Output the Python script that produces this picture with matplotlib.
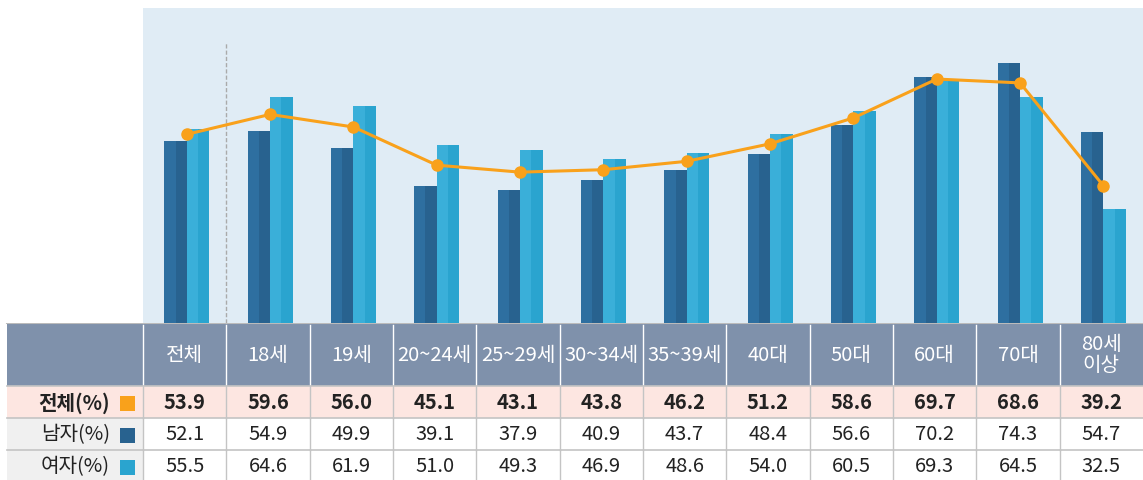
import numpy as np
import matplotlib
matplotlib.use('Agg')
import matplotlib.pyplot as plt
from matplotlib.patches import Rectangle

plt.rcParams['font.family'] = ['Noto Sans CJK KR', 'DejaVu Sans']

categories = ['전체', '18세', '19세', '20~24세', '25~29세', '30~34세', '35~39세',
              '40대', '50대', '60대', '70대', '80세\n이상']
total = [53.9, 59.6, 56.0, 45.1, 43.1, 43.8, 46.2, 51.2, 58.6, 69.7, 68.6, 39.2]
male = [52.1, 54.9, 49.9, 39.1, 37.9, 40.9, 43.7, 48.4, 56.6, 70.2, 74.3, 54.7]
female = [55.5, 64.6, 61.9, 51.0, 49.3, 46.9, 48.6, 54.0, 60.5, 69.3, 64.5, 32.5]
row_labels = ['전체(%)', '남자(%)', '여자(%)']

W, H = 1143, 480
c_orange = '#F9A11B'
c_male = ('#2E6FA0', '#28628F')
c_female = ('#3AAFD9', '#2AA4CF')
c_bg = '#E0ECF5'
c_head = '#7F91AB'

fig = plt.figure(figsize=(W / 100, H / 100), dpi=100)

# chart area
x0, x1, ytop, ybot = 143, 1143, 8, 323
ax = fig.add_axes([x0 / W, (H - ybot) / H, (x1 - x0) / W, (ybot - ytop) / H])
ax.set_facecolor(c_bg)
n = len(categories)
x = np.arange(n) + 0.025
bw = 0.27
half = bw / 2
ax.bar(x - bw, male, width=half, align='edge', color=c_male[0], lw=0)
ax.bar(x - half, male, width=half, align='edge', color=c_male[1], lw=0)
ax.bar(x, female, width=half, align='edge', color=c_female[0], lw=0)
ax.bar(x + half, female, width=half, align='edge', color=c_female[1], lw=0)
ax.plot(x, total, color=c_orange, lw=2.2, marker='o', ms=8, zorder=5)
ax.plot([0.5, 0.5], [0, 80], color='#AAAAAA', lw=1, ls=(0, (3, 1.5)), zorder=1)
ax.set_xlim(-0.5, 11.5)
ax.set_ylim(0, 90)
ax.set_xticks([])
ax.set_yticks([])
for s in ax.spines.values():
    s.set_visible(False)

# table area
tx = fig.add_axes([0, 0, 1, (H - ybot) / H])
tx.set_xlim(0, W)
tx.set_ylim(H, ybot)
tx.axis('off')

col_w = (x1 - x0) / n
lab_x0 = 7
rows = [(323, 386), (386, 418), (418, 450), (450, 482)]
row_bg = ['#FDE6E1', '#FFFFFF', '#FFFFFF']
lab_bg = ['#FDE6E1', '#F0F0F0', '#F0F0F0']
sq_col = [c_orange, c_male[1], c_female[1]]
grid = '#C4C4C4'

# header row
tx.add_patch(Rectangle((lab_x0, rows[0][0]), W - lab_x0, rows[0][1] - rows[0][0],
                       color=c_head, lw=0))
for i, c in enumerate(categories):
    cx = x0 + col_w * (i + 0.5)
    tx.text(cx, (rows[0][0] + rows[0][1]) / 2 + 1, c, color='white', fontsize=14.5,
            ha='center', va='center', linespacing=1.0)
for i in range(n):
    xl = x0 + col_w * i
    tx.plot([xl, xl], [rows[0][0] + 2, rows[0][1]], color='white', lw=1)

# body rows
data_rows = [total, male, female]
for r, vals in enumerate(data_rows):
    ya, yb = rows[r + 1]
    tx.add_patch(Rectangle((lab_x0, ya), x0 - lab_x0, yb - ya, color=lab_bg[r], lw=0))
    tx.add_patch(Rectangle((x0, ya), W - x0, yb - ya, color=row_bg[r], lw=0))
    yc = (ya + yb) / 2 + 1
    weight = 'bold' if r == 0 else 'normal'
    tx.text(110, yc, row_labels[r], ha='right', va='center', fontsize=14.5,
            color='#222222', fontweight=weight)
    tx.add_patch(Rectangle((120, yc - 7), 15, 15, color=sq_col[r], lw=0))
    for i, v in enumerate(vals):
        cx = x0 + col_w * (i + 0.5)
        tx.text(cx, yc, f'{v:.1f}', ha='center', va='center', fontsize=14.5,
                color='#222222', fontweight=weight)
    tx.plot([lab_x0, W], [ya, ya], color=grid, lw=1.2)
    for i in range(n):
        xl = x0 + col_w * i
        tx.plot([xl, xl], [ya, yb], color=grid, lw=1)

tx.plot([lab_x0, W], [ybot, ybot], color='#BBBBBB', lw=1.5)

fig.savefig('out.png', dpi=100)
